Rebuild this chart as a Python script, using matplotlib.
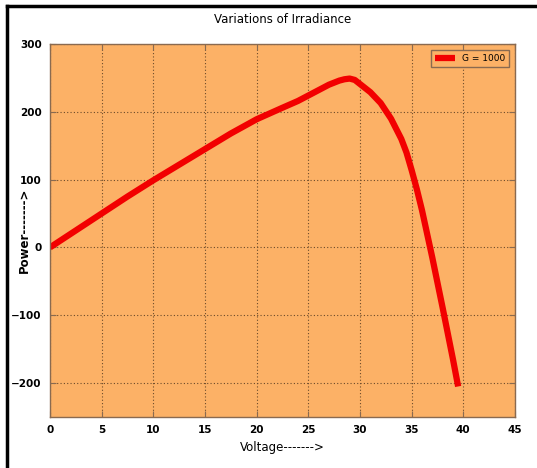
import matplotlib
matplotlib.use("Agg")
import matplotlib.pyplot as plt
from matplotlib.lines import Line2D

# ============================================
# Data (P-V curve, G = 1000)
# ============================================

voltage = [0, 2.5, 5, 7.5, 10, 12.5, 15, 17.5, 20, 22.5, 24, 25, 26, 27,
           28, 28.5, 29, 29.5, 30, 31, 32, 33, 34, 34.5, 35, 35.5, 36,
           36.5, 37, 37.5, 38, 38.5, 39, 39.5]
power = [0, 25, 50, 75, 99, 122, 145, 168, 189, 206, 216, 224, 232, 240,
         246, 248, 249, 247, 241, 229, 213, 190, 160, 140, 114, 86, 55,
         20, -15, -52, -89, -127, -165, -205]

x_ticks = [0, 5, 10, 15, 20, 25, 30, 35, 40, 45]
y_ticks = [-200, -100, 0, 100, 200, 300]

legend_label = "G = 1000"

# ============================================
# Plot
# ============================================

fig = plt.figure(figsize=(5.37, 4.68), dpi=100)
ax = fig.add_axes([0.093, 0.109, 0.866, 0.797])

ax.set_facecolor("#fcb166")
ax.plot(voltage, power, color="#f20000", linewidth=4.5,
        solid_capstyle="butt", solid_joinstyle="round", label=legend_label)

ax.set_xlim(0, 45)
ax.set_ylim(-250, 300)
ax.set_xticks(x_ticks)
ax.set_yticks(y_ticks)

ax.grid(True, linestyle=(0, (1, 2)), color="#6b4a2a", linewidth=0.8)
ax.tick_params(direction="in", length=4, color="#8a6a50",
               labelsize=7.5, top=True, right=True, pad=6)
for lbl in ax.get_xticklabels() + ax.get_yticklabels():
    lbl.set_fontweight("bold")

for s in ax.spines.values():
    s.set_color("#8a6a50")
    s.set_linewidth(1.0)

ax.set_title("Variations of Irradiance", fontsize=8.5, pad=15)
ax.set_xlabel("Voltage------->", fontsize=8.5)
ax.xaxis.set_label_coords(0.5, -0.065)
ax.set_ylabel("Power------->", fontsize=8.5, fontweight="bold")
ax.yaxis.set_label_coords(-0.04, 0.5)

leg = ax.legend(loc="upper right", fontsize=6.5, frameon=True, fancybox=False,
                handlelength=2.2, borderaxespad=0.7)
leg.get_frame().set_facecolor("#fcb166")
leg.get_frame().set_edgecolor("#8a6a50")
leg.get_frame().set_alpha(1)

# black frame lines on left and top of the figure
fig.add_artist(Line2D([0.013, 0.013], [0, 0.988], color="black",
                      linewidth=2.5, transform=fig.transFigure))
fig.add_artist(Line2D([0.013, 1.0], [0.988, 0.988], color="black",
                      linewidth=2.5, transform=fig.transFigure))

plt.savefig("out.png", dpi=100)
